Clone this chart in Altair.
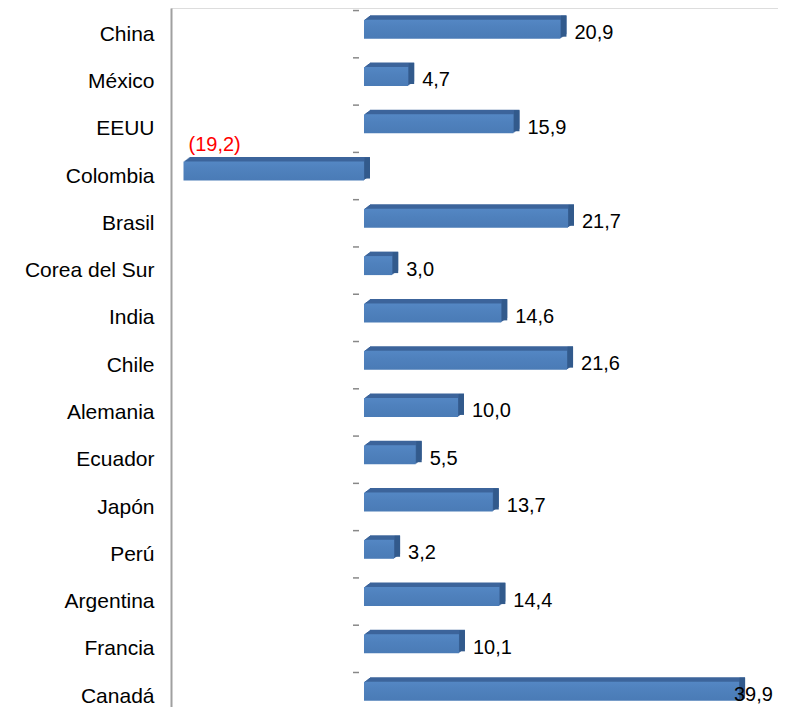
import json
import altair as alt
import pandas as pd

countries = ["China", "México", "EEUU", "Colombia", "Brasil", "Corea del Sur", "India",
             "Chile", "Alemania", "Ecuador", "Japón", "Perú", "Argentina", "Francia", "Canadá"]
values = [20.9, 4.7, 15.9, -19.2, 21.7, 3.0, 14.6, 21.6, 10.0, 5.5, 13.7, 3.2, 14.4, 10.1, 39.9]

df = pd.DataFrame({"idx": list(range(len(countries))), "pais": countries, "v": values})
df["zero"] = 0.0
df["right"] = df["v"].clip(lower=0)
df["lx"] = df["v"].clip(upper=37.87)
df["tickpos"] = df["idx"] - 0.5

FONT = "Liberation Sans"
label_expr = json.dumps(countries, ensure_ascii=False) + "[datum.value]"

YS = alt.Scale(domain=[-0.554, 14.23], reverse=True, nice=False, zero=False, padding=0)
YAX = alt.Axis(values=list(range(len(countries))), labelExpr=label_expr, title=None,
               ticks=False, grid=False, labelPadding=17, labelFont=FONT,
               labelFontSize=21, labelColor="#000000", domainColor="#a0a0a0",
               domainWidth=2)
Y = alt.Y("idx:Q", scale=YS, axis=YAX)
XS = alt.Scale(domain=[-20.53, 44.04], nice=False, zero=False, padding=0)
X = alt.X("zero:Q", scale=XS, axis=None)

base = alt.Chart(df)

layers = []
# extrusion (top face)
for k in range(6, 0, -1):
    layers.append(base.mark_bar(orient="horizontal", size=19, color="#3c659b",
                                xOffset=k, x2Offset=k, yOffset=-5 - 0.75 * k)
                  .encode(x=X, x2="v:Q", y=Y))
# side face
layers.append(base.mark_bar(orient="horizontal", size=21, color="#325a8c",
                            xOffset=0.5, x2Offset=6, yOffset=-8)
              .encode(x=alt.X("right:Q", scale=XS, axis=None), x2="right:Q", y=Y))
# front face
layers.append(base.mark_bar(orient="horizontal", size=19, yOffset=-5,
                            color=alt.Gradient(gradient="linear", x1=0, y1=0, x2=0, y2=1,
                                               stops=[alt.GradientStop(color="#5487c4", offset=0),
                                                      alt.GradientStop(color="#4f81bd", offset=0.4),
                                                      alt.GradientStop(color="#4a7bb6", offset=1)]))
              .encode(x=X, x2="v:Q", y=Y))
# small ticks
layers.append(base.mark_rule(color="#888888", strokeWidth=1.5)
              .encode(x=alt.value(182), x2=alt.value(188),
                      y=alt.Y("tickpos:Q", scale=YS, axis=YAX)))
# positive labels
layers.append(base.transform_filter("datum.v >= 0")
              .transform_calculate(lab="replace(format(datum.v, '.1f'), '.', ',')")
              .mark_text(align="left", baseline="middle", dx=14, dy=-1, font=FONT,
                         fontSize=20, color="#000000")
              .encode(x=alt.X("lx:Q", scale=XS, axis=None), y=Y, text="lab:N"))
# negative labels
layers.append(base.transform_filter("datum.v < 0")
              .transform_calculate(lab="'(' + replace(format(abs(datum.v), '.1f'), '.', ',') + ')'")
              .mark_text(align="left", baseline="middle", dx=5, dy=-31, font=FONT,
                         fontSize=20, color="#ff0000")
              .encode(x=alt.X("v:Q", scale=XS, axis=None), y=Y, text="lab:N"))

chart = (alt.layer(*layers)
         .properties(width=607, height=699,
                     autosize=alt.AutoSizeParams(type="none"),
                     padding={"left": 163, "top": 0, "right": 0, "bottom": 0})
         .configure_view(strokeWidth=0, stroke="transparent")
         .configure(background="#ffffff"))

chart.save("out.html", embed_options={"renderer": "svg", "actions": False})
